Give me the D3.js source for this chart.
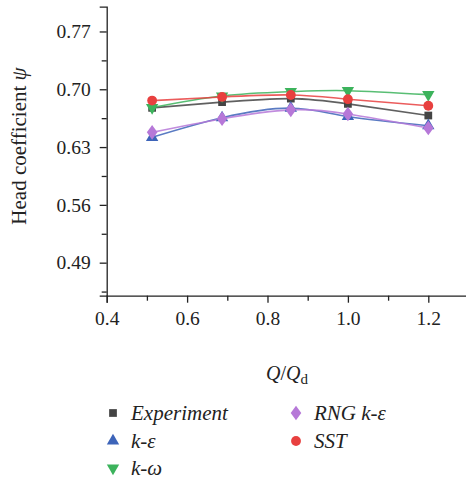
<!DOCTYPE html>
<html><head><meta charset="utf-8">
<script src="https://cdn.jsdelivr.net/npm/d3@7"></script>
<style>body{margin:0;background:#fff}svg{display:block}</style>
</head><body><svg id="c" width="466" height="483"></svg>
<script>
const flowRates = [0.513, 0.687, 0.858, 1.0, 1.2];
const experiment = [0.6775, 0.6844, 0.6887, 0.6823, 0.6682];
const kEpsilon   = [0.6418, 0.6655, 0.6771, 0.6670, 0.6559];
const kOmega     = [0.6779, 0.6919, 0.6971, 0.6983, 0.6935];
const rngKEps    = [0.6478, 0.6643, 0.6751, 0.6700, 0.6531];
const sst        = [0.6863, 0.6907, 0.6931, 0.6880, 0.6800];
const yTicks = [0.49, 0.56, 0.63, 0.70, 0.77];
const yMinor = [0.455, 0.525, 0.595, 0.665, 0.735];
const xTicks = [0.4, 0.6, 0.8, 1.0, 1.2];
const xMinor = [0.5, 0.7, 0.9, 1.1];

const series = [
  {name:"Experiment", vals:experiment, color:"#444444", sym:d3.symbolSquare, size:60, rot:0},
  {name:"k-ε", vals:kEpsilon, color:"#3d64b9", sym:d3.symbolTriangle, size:66, rot:0},
  {name:"k-ω", vals:kOmega, color:"#3cb35c", sym:d3.symbolTriangle, size:66, rot:180},
  {name:"RNG k-ε", vals:rngKEps, color:"#b678d8", sym:d3.symbolDiamond, size:62, rot:0, diamond:true},
  {name:"SST", vals:sst, color:"#e8403f", sym:d3.symbolCircle, size:76, rot:0}
];

const svg = d3.select("#c");
const font = "'Liberation Serif', 'DejaVu Serif', serif";
const x = d3.scaleLinear().domain([0.4, 1.3]).range([106.7, 468.5]);
const y = d3.scaleLinear().domain([0.45, 0.80]).range([295.7, 6.7]);

// axes
const gx = svg.append("g").attr("transform", `translate(0,${y(0.45)})`)
  .call(d3.axisBottom(x).tickValues(xTicks).tickFormat(d3.format(".1f")).tickSizeOuter(0).tickSize(7).tickPadding(5));
svg.append("g").attr("transform", `translate(0,${y(0.45)})`)
  .call(d3.axisBottom(x).tickValues(xMinor).tickFormat("").tickSizeOuter(0).tickSize(5))
  .select(".domain").remove();
const gy = svg.append("g").attr("transform", `translate(${x(0.4)},0)`)
  .call(d3.axisLeft(y).tickValues(yTicks).tickFormat(d3.format(".2f")).tickSizeOuter(0).tickSize(7).tickPadding(9));
svg.append("g").attr("transform", `translate(${x(0.4)},0)`)
  .call(d3.axisLeft(y).tickValues(yMinor).tickFormat("").tickSizeOuter(0).tickSize(5))
  .select(".domain").remove();
svg.selectAll(".tick line, .domain").attr("stroke", "#222").attr("stroke-width", 1.3);
svg.selectAll(".tick text").attr("font-family", font).attr("font-size", 19.5).attr("fill", "#222");
gx.selectAll(".tick text").attr("dy", "0.9em");

// titles
svg.append("text").attr("transform", `translate(26,146) rotate(-90)`)
  .attr("text-anchor", "middle").attr("font-family", font).attr("font-size", 21).attr("fill", "#222")
  .html('Head coefficient <tspan font-style="italic">ψ</tspan>');
svg.append("text").attr("x", 287).attr("y", 380).attr("text-anchor", "middle")
  .attr("font-family", font).attr("font-size", 20).attr("fill", "#222")
  .html('<tspan font-style="italic">Q</tspan>/<tspan font-style="italic">Q</tspan><tspan font-size="15" dy="4">d</tspan>');

// lines
const line = d3.line().curve(d3.curveNatural).x(d => x(d[0])).y(d => y(d[1]));
series.forEach(s => {
  svg.append("path").datum(flowRates.map((q, i) => [q, s.vals[i]]))
    .attr("d", line).attr("fill", "none").attr("stroke", s.color)
    .attr("stroke-width", 1.6).attr("stroke-opacity", 0.85);
});
// markers
function marker(g, s, cx, cy) {
  const sy = d3.symbol().type(s.sym).size(s.size);
  let tf = `translate(${cx},${cy})`;
  if (s.rot) tf += ` rotate(${s.rot})`;
  if (s.diamond) tf += ` scale(1.25,1)`;
  g.append("path").attr("d", sy()).attr("transform", tf).attr("fill", s.color);
}
series.forEach(s => {
  const g = svg.append("g");
  flowRates.forEach((q, i) => marker(g, s, x(q), y(s.vals[i])));
});

// legend
const legendPos = [[113,413],[113,441],[113,468],[296,413],[296,441]];
series.forEach((s, i) => {
  const [lx, ly] = legendPos[i];
  marker(svg, s, lx, ly);
  svg.append("text").attr("x", lx + 18).attr("y", ly + 6.5)
    .attr("font-family", font).attr("font-size", 21).attr("font-style", "italic").attr("fill", "#222")
    .text(s.name);
});
</script></body></html>
